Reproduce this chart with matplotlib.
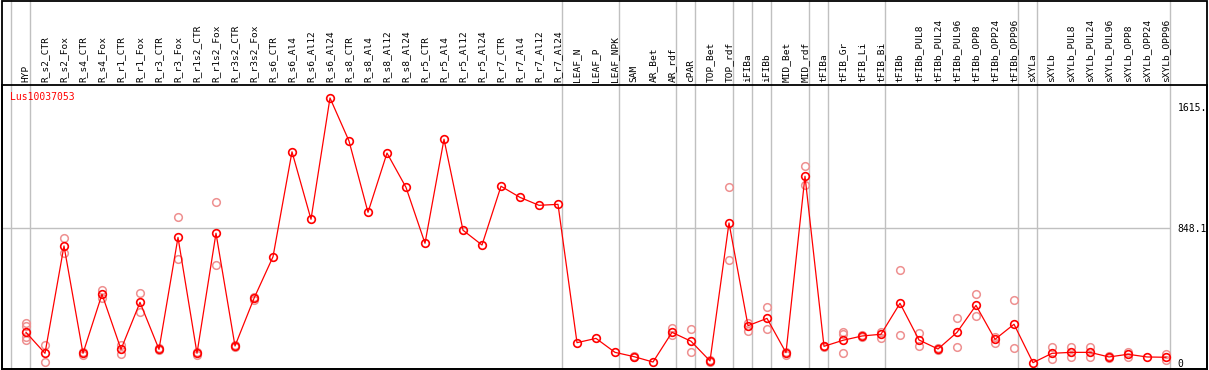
import numpy as np
import matplotlib
matplotlib.use('Agg')
import matplotlib.pyplot as plt
from matplotlib.patches import Rectangle

# --- data ---
GENE = 'Lus10037053'
samples = ['HYP', 'R_s2_CTR', 'R_s2_Fox', 'R_s4_CTR', 'R_s4_Fox', 'R_r1_CTR', 'R_r1_Fox',
           'R_r3_CTR', 'R_r3_Fox', 'R_r1s2_CTR', 'R_r1s2_Fox', 'R_r3s2_CTR', 'R_r3s2_Fox',
           'R_s6_CTR', 'R_s6_Al4', 'R_s6_Al12', 'R_s6_Al24', 'R_s8_CTR', 'R_s8_Al4',
           'R_s8_Al12', 'R_s8_Al24', 'R_r5_CTR', 'R_r5_Al4', 'R_r5_Al12', 'R_r5_Al24',
           'R_r7_CTR', 'R_r7_Al4', 'R_r7_Al12', 'R_r7_Al24', 'LEAF_N', 'LEAF_P', 'LEAF_NPK',
           'SAM', 'AR_Bet', 'AR_rdf', 'cPAR', 'TOP_Bet', 'TOP_rdf', 'iFIBa', 'iFIBb',
           'MID_Bet', 'MID_rdf', 'tFIBa', 'tFIB_Gr', 'tFIB_Li', 'tFIB_Bi', 'tFIBb',
           'tFIBb_PUL8', 'tFIBb_PUL24', 'tFIBb_PUL96', 'tFIBb_OPP8', 'tFIBb_OPP24',
           'tFIBb_OPP96', 'sXYLa', 'sXYLb', 'sXYLb_PUL8', 'sXYLb_PUL24', 'sXYLb_PUL96',
           'sXYLb_OPP8', 'sXYLb_OPP24', 'sXYLb_OPP96']

means = [193, 61, 737, 61, 433, 86, 382, 86, 791, 61, 817, 107, 407,
         669, 1330, 905, 1669, 1398, 949, 1322, 1106, 754, 1409, 836, 743,
         1113, 1043, 993, 999, 128, 155, 67, 40, 6, 193, 137, 13, 882,
         235, 281, 65, 1176, 105, 143, 170, 181, 376, 145, 88, 193, 363,
         149, 244, 2, 61, 67, 67, 38, 55, 38, 36]

replicates = [[250, 233, 162, 145], [113, 8], [785, 691], [71, 50], [458, 410],
              [113, 57], [439, 323], [92, 80], [921, 653], [71, 50], [1016, 615],
              [113, 100], [418, 397],
              [], [], [], [], [], [], [], [], [], [], [], [], [], [], [], [],
              [], [], [], [46, 35], [], [218, 176], [212, 69], [17, 8],
              [1108, 647], [254, 202], [351, 212], [71, 50], [1239, 1121],
              [110, 100], [197, 183, 63], [176, 164], [197, 159], [586, 176],
              [187, 107], [92, 84], [281, 101], [433, 298], [166, 128], [397, 92],
              [], [101, 23], [101, 40], [101, 40], [42, 34], [71, 40], [], [57, 19]]

# group separators sit just after these sample indices
group_ends = [-1, 0, 28, 31, 34, 35, 37, 38, 39, 41, 42, 45, 52, 53, 60]
ytick_vals = [0, 848.1, 1615]
ytick_labels = ['0', '848.1', '1615.']

W, H = 1209, 370
fig = plt.figure(figsize=(W / 100, H / 100), dpi=100)
ax = fig.add_axes([2 / W, 1 / H, 1205 / W, 284 / H])

x = np.arange(len(samples))

# replicate circles (pale)
for i, reps in enumerate(replicates):
    if reps:
        ax.plot([i] * len(reps), reps, 'o', mfc='none', mec='#ee9090',
                ms=5.5, mew=1.1, zorder=2)

# mean line
ax.plot(x, means, '-', color='red', lw=0.9, zorder=3)
ax.plot(x, means, 'o', mfc='none', mec='red', ms=5.5, mew=1.2, zorder=4)

ax.set_xlim(-1.263, 62.158)
ax.set_ylim(-37.8, 1750.6)

# separators spanning the label strip too
for g in group_ends:
    ax.axvline(g + 0.21, ymin=0, ymax=369 / 284, color='#c0c0c0', lw=1.0,
               clip_on=False, zorder=1)
ax.hlines(848.1, -1.263, 60.21, color='#c0c0c0', lw=1.0, zorder=1)

mono = 'DejaVu Sans Mono'
ax.set_xticks(x)
ax.set_xticklabels(samples, rotation=90, family=mono, fontsize=6.8)
ax.tick_params(axis='x', top=True, bottom=False, labeltop=True,
               labelbottom=False, length=0, pad=2)

ax.yaxis.tick_right()
ax.set_yticks(ytick_vals)
ax.set_yticklabels(ytick_labels, family=mono, fontsize=7)
ax.tick_params(axis='y', length=0, pad=-21)

for s in ax.spines.values():
    s.set_color('black')
    s.set_linewidth(1.3)

ax.text(8 / 1205, 0.958, GENE, transform=ax.transAxes, color='red',
        family=mono, fontsize=7, ha='left', va='center')

# outer frame
fig.patches.append(Rectangle((2 / W, 1 / H), 1205 / W, 368.5 / H, fill=False,
                             edgecolor='black', lw=1.3,
                             transform=fig.transFigure, figure=fig))

fig.savefig('out.png', dpi=100, facecolor='white')
